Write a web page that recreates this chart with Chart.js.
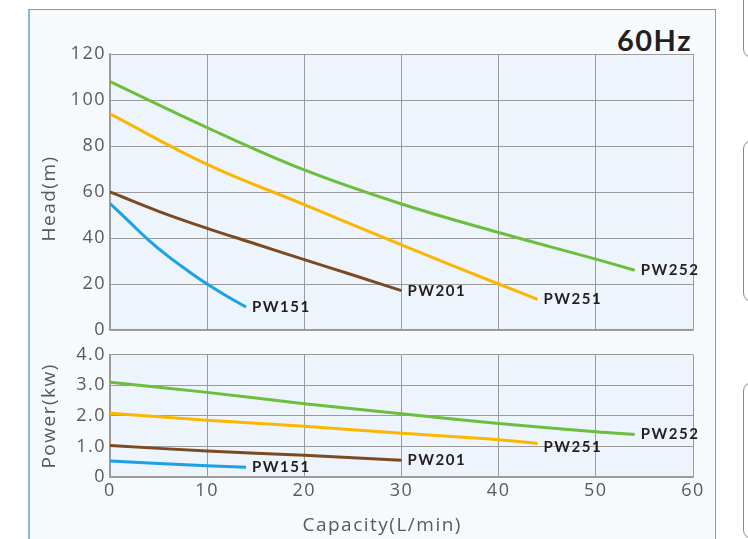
<!DOCTYPE html>
<html>
<head>
<meta charset="utf-8">
<script src="https://cdn.jsdelivr.net/npm/chart.js@4.4.1/dist/chart.umd.min.js"></script>
<style>
body{margin:0;background:#fff;width:748px;height:539px;overflow:hidden;position:relative;font-family:Lato,sans-serif}
#frame{position:absolute;left:28px;top:9px;width:685px;height:545px;background:#f6fafd;border:1.5px solid #6f9fd2;border-left:2.5px solid #8fb3dc}
.side{position:absolute;left:743px;width:40px;border:1.5px solid #8a8a8a;border-radius:9px}
#head{position:absolute;left:0;top:0}
#power{position:absolute;left:0;top:340px}
#hz{position:absolute;right:56px;top:22px;font:bold 29px Lato;color:#231f20;letter-spacing:1.5px}
</style>
</head>
<body>
<div class="side" style="top:-20px;height:76px"></div>
<div class="side" style="top:140px;height:160px"></div>
<div class="side" style="top:382px;height:155px"></div>
<div id="frame"></div>
<div id="hz">60Hz</div>
<canvas id="head" width="748" height="345"></canvas>
<canvas id="power" width="748" height="199"></canvas>
<script>
// pump curves
const models = ["PW151", "PW201", "PW251", "PW252"]
const colors = ["#1ba1e6", "#7b4a22", "#fbb600", "#6dbe3d"]

const headCap151 = [0, 2, 4, 6, 8, 10, 12, 14]
const head151 = [55, 47, 39, 32, 25.8, 20, 14.8, 10]
const headCap201 = [0, 5, 10, 15, 20, 25, 30]
const head201 = [60, 51.6, 44.2, 37.4, 30.6, 23.9, 17.1]
const headCap251 = [0, 10, 20, 30, 40, 44]
const head251 = [94, 72, 54.5, 37, 20, 13.3]
const headCap252 = [0, 10, 20, 30, 40, 50, 54]
const head252 = [108, 88, 69.6, 54.8, 42.4, 30.8, 26]

const powCap151 = [0, 10, 14]
const pow151 = [0.52, 0.37, 0.32]
const powCap201 = [0, 10, 20, 30]
const pow201 = [1.03, 0.85, 0.71, 0.55]
const powCap251 = [0, 10, 20, 30, 40, 44]
const pow251 = [2.09, 1.86, 1.66, 1.43, 1.22, 1.10]
const powCap252 = [0, 10, 20, 30, 40, 50, 54]
const pow252 = [3.1, 2.77, 2.4, 2.07, 1.75, 1.48, 1.39]

const headTicks = [0, 20, 40, 60, 80, 100, 120]
const powerTicks = [0, 1, 2, 3, 4]
const capTicks = [0, 10, 20, 30, 40, 50, 60]

function pts(xs, ys){
return xs.map((x, i) => ({x: x, y: ys[i]}))
}

function series(list){
return list.map((s, i) => ({
label: models[i],
data: pts(s[0], s[1]),
borderColor: colors[i],
borderWidth: 3,
pointRadius: 0,
fill: false,
tension: 0.4,
dy: s[2] || 0
}))
}

const tickFont = {family: "Open Sans", size: 18}
const titleFont = {family: "Open Sans", size: 19}
const textColor = "#5a5a5a"
const gridColor = "#9b9b9b"

const plotBg = {
id: "plotBg",
beforeDraw(chart){
let a = chart.chartArea, c = chart.ctx
c.save()
c.fillStyle = "#edf4fb"
c.fillRect(a.left, a.top, a.right - a.left, a.bottom - a.top)
c.restore()
c.letterSpacing = "1.5px"
}
}

const endLabels = {
id: "endLabels",
afterDatasetsDraw(chart){
let c = chart.ctx
c.save()
c.font = "bold 15px Lato"
c.letterSpacing = "1.5px"
c.fillStyle = "#231f20"
c.textBaseline = "middle"
c.textAlign = "left"
chart.data.datasets.forEach((ds, i) => {
let meta = chart.getDatasetMeta(i)
let p = meta.data[meta.data.length - 1]
c.fillText(ds.label, p.x + 6, p.y + ds.dy)
})
c.restore()
}
}

function yTicks(values){
return {
afterBuildTicks: s => { s.ticks = values.map(v => ({value: v})) },
afterFit: s => { s.width = 81 }
}
}

new Chart(document.getElementById("head"), {
type: "line",
data: {datasets: series([[headCap151, head151], [headCap201, head201], [headCap251, head251], [headCap252, head252]])},
options: {
responsive: false,
animation: false,
layout: {padding: {left: 29, right: 55, top: 54, bottom: 15}},
plugins: {legend: {display: false}, tooltip: {enabled: false}},
scales: {
x: {
type: "linear", min: 0, max: 60,
afterBuildTicks: s => { s.ticks = capTicks.map(v => ({value: v})) },
afterFit: s => { s.height = 0 },
ticks: {display: false},
grid: {color: gridColor, drawTicks: false},
border: {color: gridColor, width: 1.5}
},
y: Object.assign({
type: "linear", min: 0, max: 120,
ticks: {font: tickFont, color: textColor, padding: 4},
grid: {color: gridColor, drawTicks: false},
border: {color: gridColor, width: 1.5},
title: {display: true, text: "Head(m)  ", font: titleFont, color: textColor, padding: {top: 9, bottom: 0}}
}, yTicks(headTicks))
}
},
plugins: [plotBg, endLabels]
})

new Chart(document.getElementById("power"), {
type: "line",
data: {datasets: series([[powCap151, pow151], [powCap201, pow201], [powCap251, pow251, 4], [powCap252, pow252]])},
options: {
responsive: false,
animation: false,
layout: {padding: {left: 29, right: 55, top: 13, bottom: 0}},
plugins: {legend: {display: false}, tooltip: {enabled: false}},
scales: {
x: {
type: "linear", min: 0, max: 60,
afterBuildTicks: s => { s.ticks = capTicks.map(v => ({value: v})) },
afterFit: s => { s.height = 62 },
ticks: {font: tickFont, color: textColor, padding: 3, maxRotation: 0},
grid: {color: gridColor, drawTicks: false},
border: {color: gridColor, width: 1.5},
title: {display: true, text: "Capacity(L/min)      ", font: titleFont, color: textColor, padding: {top: 0, bottom: 2}}
},
y: Object.assign({
type: "linear", min: 0, max: 4,
ticks: {font: tickFont, color: textColor, padding: 4, callback: v => v === 0 ? "0" : v.toFixed(1)},
grid: {color: gridColor, drawTicks: false},
border: {color: gridColor, width: 1.5},
title: {display: true, text: "Power(kw)", font: titleFont, color: textColor, padding: {top: 9, bottom: 0}}
}, yTicks(powerTicks))
}
},
plugins: [plotBg, endLabels]
})
</script>
</body>
</html>
